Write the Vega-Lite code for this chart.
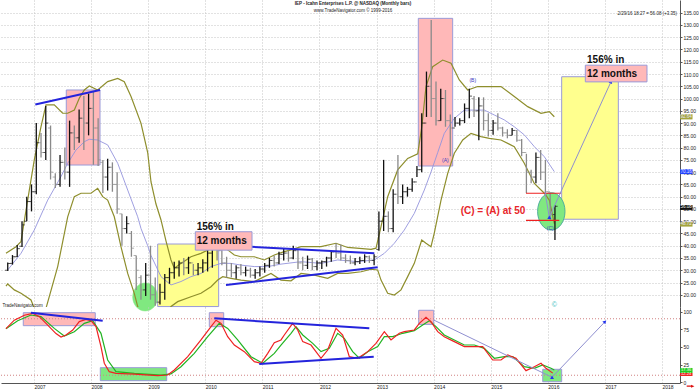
{
"$schema": "https://vega.github.io/schema/vega-lite/v6.json",
"padding": 0,
"spacing": 0,
"bounds": "flush",
"background": "white",
"config": {
 "view": {"stroke": null},
 "axis": {"gridColor": "#c4c4c4", "gridDash": [1, 2], "labelFont": "Liberation Sans", "labelFontSize": 5, "labelColor": "#222", "domainColor": "#555", "tickColor": "#555", "tickSize": 2, "labelPadding": 1},
 "text": {"font": "Liberation Sans"}
},
"resolve": {"scale": {"fill": "independent"}},
"datasets": {
 "bars": [
  {"t":2006.542,"p":33.2,"p2":29.7,"o":30,"c":32.8},
  {"t":2006.625,"p":36.2,"p2":32.3,"o":32.8,"c":35.5},
  {"t":2006.708,"p":40.3,"p2":35.4,"o":35.5,"c":38.8},
  {"t":2006.792,"p":50,"p2":39.5,"o":39.8,"c":48.5},
  {"t":2006.875,"p":60,"p2":50,"o":50,"c":58},
  {"t":2006.958,"p":65,"p2":54,"o":58,"c":62},
  {"t":2007.042,"p":90,"p2":61,"o":62,"c":82},
  {"t":2007.125,"p":86,"p2":76,"o":82,"c":78},
  {"t":2007.208,"p":97,"p2":75,"o":78,"c":90},
  {"t":2007.292,"p":89,"p2":67,"o":88,"c":70},
  {"t":2007.375,"p":69.5,"p2":63.5,"o":68,"c":65},
  {"t":2007.458,"p":77,"p2":64,"o":65,"c":74},
  {"t":2007.542,"p":80,"p2":67,"o":74,"c":70},
  {"t":2007.625,"p":91,"p2":64,"o":70,"c":86},
  {"t":2007.708,"p":89,"p2":79,"o":86,"c":84},
  {"t":2007.792,"p":95.5,"p2":82,"o":84,"c":92},
  {"t":2007.875,"p":101,"p2":79,"o":92,"c":90},
  {"t":2007.958,"p":102,"p2":85,"o":90,"c":96},
  {"t":2008.042,"p":103,"p2":73,"o":96,"c":88},
  {"t":2008.125,"p":92,"p2":72.5,"o":88,"c":75},
  {"t":2008.208,"p":75,"p2":61.5,"o":74,"c":68},
  {"t":2008.292,"p":75.5,"p2":62.5,"o":68,"c":72},
  {"t":2008.375,"p":74,"p2":62,"o":72,"c":65},
  {"t":2008.458,"p":70,"p2":53,"o":65,"c":55},
  {"t":2008.542,"p":53,"p2":40,"o":53,"c":47},
  {"t":2008.625,"p":52,"p2":45,"o":47,"c":49},
  {"t":2008.708,"p":46,"p2":35.5,"o":45,"c":39},
  {"t":2008.792,"p":36,"p2":22,"o":36,"c":30},
  {"t":2008.875,"p":28,"p2":18,"o":27,"c":22},
  {"t":2008.958,"p":33,"p2":19.5,"o":22,"c":28},
  {"t":2009.042,"p":40,"p2":18,"o":28,"c":20},
  {"t":2009.125,"p":27,"p2":15.5,"o":20,"c":17},
  {"t":2009.208,"p":24.5,"p2":16,"o":17,"c":21},
  {"t":2009.292,"p":28.5,"p2":18,"o":21,"c":27},
  {"t":2009.375,"p":31,"p2":24.5,"o":27,"c":29},
  {"t":2009.458,"p":33.5,"p2":26.5,"o":29,"c":31},
  {"t":2009.542,"p":34,"p2":27.5,"o":31,"c":33},
  {"t":2009.625,"p":35,"p2":28,"o":33,"c":31},
  {"t":2009.708,"p":35.5,"p2":28.5,"o":31,"c":33},
  {"t":2009.792,"p":32.5,"p2":28,"o":33,"c":30},
  {"t":2009.875,"p":33,"p2":28,"o":30,"c":31},
  {"t":2009.958,"p":34.5,"p2":29,"o":31,"c":33},
  {"t":2010.042,"p":39,"p2":29.5,"o":33,"c":37},
  {"t":2010.125,"p":40,"p2":31,"o":37,"c":39},
  {"t":2010.208,"p":41,"p2":34,"o":39,"c":38},
  {"t":2010.292,"p":38.5,"p2":32,"o":38,"c":33},
  {"t":2010.375,"p":35.5,"p2":27,"o":33,"c":30},
  {"t":2010.458,"p":33,"p2":27,"o":30,"c":29},
  {"t":2010.542,"p":32,"p2":26.5,"o":29,"c":31},
  {"t":2010.625,"p":32.5,"p2":28,"o":31,"c":29},
  {"t":2010.708,"p":31.5,"p2":27.5,"o":29,"c":30},
  {"t":2010.792,"p":31,"p2":27,"o":30,"c":28},
  {"t":2010.875,"p":30.5,"p2":26.5,"o":28,"c":29},
  {"t":2010.958,"p":31.5,"p2":27.5,"o":29,"c":30.5},
  {"t":2011.042,"p":33,"p2":29,"o":30.5,"c":32},
  {"t":2011.125,"p":35,"p2":31,"o":32,"c":34},
  {"t":2011.208,"p":36,"p2":31.5,"o":34,"c":33},
  {"t":2011.292,"p":37.5,"p2":32.5,"o":33,"c":36.5},
  {"t":2011.375,"p":39,"p2":34,"o":36.5,"c":37},
  {"t":2011.458,"p":38,"p2":33.5,"o":37,"c":35},
  {"t":2011.542,"p":40,"p2":34.5,"o":35,"c":38},
  {"t":2011.625,"p":38.5,"p2":30.5,"o":38,"c":33},
  {"t":2011.708,"p":35.5,"p2":30,"o":33,"c":32},
  {"t":2011.792,"p":36,"p2":30.5,"o":32,"c":34.5},
  {"t":2011.875,"p":35,"p2":30,"o":34.5,"c":31.5},
  {"t":2011.958,"p":34,"p2":30,"o":31.5,"c":33},
  {"t":2012.042,"p":34,"p2":30.5,"o":33,"c":33.5},
  {"t":2012.125,"p":35.5,"p2":31.5,"o":33.5,"c":35},
  {"t":2012.208,"p":38,"p2":33.5,"o":35,"c":37.5},
  {"t":2012.292,"p":41,"p2":35,"o":37.5,"c":37},
  {"t":2012.375,"p":40.5,"p2":34,"o":37,"c":35},
  {"t":2012.458,"p":36.5,"p2":33,"o":35,"c":34},
  {"t":2012.542,"p":36,"p2":32.5,"o":34,"c":33},
  {"t":2012.625,"p":35,"p2":32,"o":33,"c":33.5},
  {"t":2012.708,"p":35.5,"p2":32.5,"o":33.5,"c":34},
  {"t":2012.792,"p":36.5,"p2":33,"o":34,"c":35.5},
  {"t":2012.875,"p":36,"p2":33,"o":35.5,"c":34},
  {"t":2012.958,"p":36.5,"p2":32,"o":34,"c":35.5},
  {"t":2013.042,"p":54,"p2":38,"o":38.5,"c":50},
  {"t":2013.125,"p":75,"p2":46,"o":50,"c":52},
  {"t":2013.208,"p":54,"p2":45.5,"o":52,"c":47},
  {"t":2013.292,"p":63,"p2":45.5,"o":47,"c":61},
  {"t":2013.375,"p":77,"p2":57,"o":61,"c":60},
  {"t":2013.458,"p":65,"p2":57,"o":60,"c":62},
  {"t":2013.542,"p":64,"p2":60,"o":62,"c":63},
  {"t":2013.625,"p":67.5,"p2":62,"o":63,"c":66},
  {"t":2013.708,"p":72.5,"p2":68,"o":66,"c":71},
  {"t":2013.792,"p":94,"p2":70,"o":71,"c":90},
  {"t":2013.875,"p":111,"p2":92.5,"o":90,"c":105},
  {"t":2013.958,"p":132,"p2":92.5,"o":105,"c":100},
  {"t":2014.042,"p":107,"p2":89,"o":100,"c":91},
  {"t":2014.125,"p":104,"p2":91,"o":91,"c":100},
  {"t":2014.208,"p":103.5,"p2":88.5,"o":100,"c":91},
  {"t":2014.292,"p":93.5,"p2":76.5,"o":91,"c":88},
  {"t":2014.375,"p":92.5,"p2":88.5,"o":88,"c":90},
  {"t":2014.458,"p":92,"p2":89,"o":90,"c":91},
  {"t":2014.542,"p":98,"p2":90,"o":91,"c":96},
  {"t":2014.625,"p":104,"p2":92,"o":96,"c":101},
  {"t":2014.708,"p":101,"p2":92.5,"o":100,"c":95},
  {"t":2014.792,"p":100.5,"p2":83,"o":95,"c":97},
  {"t":2014.875,"p":100.5,"p2":87,"o":97,"c":91},
  {"t":2014.958,"p":94,"p2":84.5,"o":91,"c":87},
  {"t":2015.042,"p":91.3,"p2":85.2,"o":87,"c":90},
  {"t":2015.125,"p":94,"p2":87,"o":90,"c":88},
  {"t":2015.208,"p":88.5,"p2":84.5,"o":88,"c":86},
  {"t":2015.292,"p":87.5,"p2":83.8,"o":86,"c":85},
  {"t":2015.375,"p":88,"p2":85,"o":85,"c":87},
  {"t":2015.458,"p":87.2,"p2":82.4,"o":87,"c":83},
  {"t":2015.542,"p":83.5,"p2":76.5,"o":83,"c":78},
  {"t":2015.625,"p":77.5,"p2":61.5,"o":78,"c":70},
  {"t":2015.708,"p":71,"p2":65.5,"o":70,"c":68},
  {"t":2015.792,"p":78,"p2":65.5,"o":68,"c":76},
  {"t":2015.875,"p":79,"p2":66.8,"o":76,"c":70},
  {"t":2015.958,"p":75,"p2":61,"o":70,"c":62},
  {"t":2016.042,"p":61.5,"p2":50.5,"o":62,"c":52.7},
  {"t":2016.125,"p":56.5,"p2":42.3,"o":52.7,"c":56.08}
 ],
 "bands": [
  {"s":"upper","t":2006.511,"p":36.9},{"s":"upper","t":2006.687,"p":39.6},{"s":"upper","t":2006.774,"p":41.7},{"s":"upper","t":2006.891,"p":58.6},{"s":"upper","t":2007.007,"p":75},{"s":"upper","t":2007.124,"p":88.5},{"s":"upper","t":2007.212,"p":97.4},{"s":"upper","t":2007.357,"p":97.4},{"s":"upper","t":2007.504,"p":94},{"s":"upper","t":2007.592,"p":94},{"s":"upper","t":2007.708,"p":95.3},{"s":"upper","t":2007.795,"p":100.1},{"s":"upper","t":2007.883,"p":103.5},{"s":"upper","t":2007.970,"p":105.1},{"s":"upper","t":2008.117,"p":103.5},{"s":"upper","t":2008.292,"p":106.9},{"s":"upper","t":2008.468,"p":108.2},{"s":"upper","t":2008.583,"p":106.9},{"s":"upper","t":2008.701,"p":100.8},{"s":"upper","t":2008.876,"p":89.9},{"s":"upper","t":2008.993,"p":78},{"s":"upper","t":2009.051,"p":66},{"s":"upper","t":2009.138,"p":57},{"s":"upper","t":2009.226,"p":50.5},{"s":"upper","t":2009.313,"p":42},{"s":"upper","t":2009.401,"p":34.2},{"s":"upper","t":2009.459,"p":30.8},{"s":"upper","t":2009.576,"p":32.8},{"s":"upper","t":2009.751,"p":35.5},{"s":"upper","t":2009.926,"p":36.9},{"s":"upper","t":2010.102,"p":38.9},{"s":"upper","t":2010.247,"p":40.3},{"s":"upper","t":2010.394,"p":38.3},{"s":"upper","t":2010.510,"p":36.2},{"s":"upper","t":2010.627,"p":35.5},{"s":"upper","t":2010.860,"p":35.5},{"s":"upper","t":2011.035,"p":34.2},{"s":"upper","t":2011.210,"p":36.2},{"s":"upper","t":2011.385,"p":37.6},{"s":"upper","t":2011.503,"p":38.3},{"s":"upper","t":2011.678,"p":39.6},{"s":"upper","t":2012.028,"p":39.6},{"s":"upper","t":2012.291,"p":41},{"s":"upper","t":2012.496,"p":39.3},{"s":"upper","t":2012.904,"p":38.5},{"s":"upper","t":2012.991,"p":39},{"s":"upper","t":2013.079,"p":47.8},{"s":"upper","t":2013.196,"p":60},{"s":"upper","t":2013.371,"p":70.9},{"s":"upper","t":2013.546,"p":75.6},{"s":"upper","t":2013.722,"p":77.5},{"s":"upper","t":2013.793,"p":88.5},{"s":"upper","t":2013.867,"p":104.9},{"s":"upper","t":2013.984,"p":113},{"s":"upper","t":2014.159,"p":115.7},{"s":"upper","t":2014.305,"p":114.4},{"s":"upper","t":2014.450,"p":107.6},{"s":"upper","t":2014.597,"p":103.5},{"s":"upper","t":2014.772,"p":104.9},{"s":"upper","t":2015.005,"p":104.9},{"s":"upper","t":2015.180,"p":104.9},{"s":"upper","t":2015.413,"p":100.8},{"s":"upper","t":2015.648,"p":96.7},{"s":"upper","t":2015.881,"p":94},{"s":"upper","t":2016.026,"p":94.7},{"s":"upper","t":2016.114,"p":92.6},
  {"s":"lower","t":2006.511,"p":23.5},{"s":"lower","t":2006.541,"p":24.4},{"s":"lower","t":2006.657,"p":22},{"s":"lower","t":2006.774,"p":20.6},{"s":"lower","t":2006.949,"p":17.9},{"s":"lower","t":2007.05,"p":12},{"s":"lower","t":2007.13,"p":11},{"s":"lower","t":2007.212,"p":14.5},{"s":"lower","t":2007.417,"p":31.5},{"s":"lower","t":2007.592,"p":51.8},{"s":"lower","t":2007.708,"p":60},{"s":"lower","t":2007.825,"p":61.4},{"s":"lower","t":2008.0,"p":61.4},{"s":"lower","t":2008.117,"p":63.4},{"s":"lower","t":2008.205,"p":60},{"s":"lower","t":2008.292,"p":58.6},{"s":"lower","t":2008.408,"p":51.8},{"s":"lower","t":2008.525,"p":39.6},{"s":"lower","t":2008.643,"p":28.7},{"s":"lower","t":2008.758,"p":20.6},{"s":"lower","t":2008.818,"p":15.2},{"s":"lower","t":2008.95,"p":9},{"s":"lower","t":2009.226,"p":10},{"s":"lower","t":2009.401,"p":15.2},{"s":"lower","t":2009.518,"p":17.2},{"s":"lower","t":2009.751,"p":19.2},{"s":"lower","t":2009.926,"p":20.6},{"s":"lower","t":2010.102,"p":23.3},{"s":"lower","t":2010.219,"p":26},{"s":"lower","t":2010.307,"p":27.4},{"s":"lower","t":2010.452,"p":26.7},{"s":"lower","t":2010.627,"p":26},{"s":"lower","t":2010.860,"p":25.4},{"s":"lower","t":2011.035,"p":27.4},{"s":"lower","t":2011.152,"p":28.7},{"s":"lower","t":2011.327,"p":26},{"s":"lower","t":2011.503,"p":25.7},{"s":"lower","t":2011.678,"p":28.7},{"s":"lower","t":2011.911,"p":28},{"s":"lower","t":2012.145,"p":26.7},{"s":"lower","t":2012.320,"p":28.7},{"s":"lower","t":2012.496,"p":28.7},{"s":"lower","t":2012.729,"p":29.4},{"s":"lower","t":2012.904,"p":30.4},{"s":"lower","t":2013.021,"p":30.1},{"s":"lower","t":2013.079,"p":26},{"s":"lower","t":2013.196,"p":20.6},{"s":"lower","t":2013.312,"p":19.9},{"s":"lower","t":2013.429,"p":22},{"s":"lower","t":2013.546,"p":27.4},{"s":"lower","t":2013.662,"p":32.8},{"s":"lower","t":2013.792,"p":42.3},{"s":"lower","t":2013.867,"p":41},{"s":"lower","t":2013.954,"p":39.6},{"s":"lower","t":2014.012,"p":45.1},{"s":"lower","t":2014.130,"p":58.6},{"s":"lower","t":2014.247,"p":69.5},{"s":"lower","t":2014.363,"p":77.7},{"s":"lower","t":2014.510,"p":83.1},{"s":"lower","t":2014.655,"p":85.8},{"s":"lower","t":2014.830,"p":84.5},{"s":"lower","t":2014.976,"p":83.8},{"s":"lower","t":2015.180,"p":83.1},{"s":"lower","t":2015.413,"p":80.4},{"s":"lower","t":2015.588,"p":73.6},{"s":"lower","t":2015.764,"p":65.4},{"s":"lower","t":2015.939,"p":61.4},{"s":"lower","t":2016.026,"p":58.6},{"s":"lower","t":2016.114,"p":49}
 ],
 "mid": [
  {"t":2006.541,"p":30.1},{"t":2006.774,"p":36.9},{"t":2007.007,"p":46.4},{"t":2007.242,"p":58.6},{"t":2007.475,"p":68.2},{"t":2007.592,"p":73.6},{"t":2007.737,"p":79},{"t":2007.883,"p":82.4},{"t":2007.970,"p":83.4},{"t":2008.117,"p":83.1},{"t":2008.292,"p":81.1},{"t":2008.468,"p":73.6},{"t":2008.643,"p":62.7},{"t":2008.818,"p":51.8},{"t":2008.876,"p":47},{"t":2008.993,"p":40},{"t":2009.051,"p":36},{"t":2009.226,"p":27.4},{"t":2009.401,"p":24},{"t":2009.576,"p":25.4},{"t":2009.751,"p":27.4},{"t":2009.926,"p":28.7},{"t":2010.102,"p":31.5},{"t":2010.277,"p":32.8},{"t":2010.452,"p":32.8},{"t":2010.627,"p":32.1},{"t":2010.860,"p":31.5},{"t":2011.095,"p":31.5},{"t":2011.327,"p":32.5},{"t":2011.678,"p":33.5},{"t":2012.028,"p":32.8},{"t":2012.320,"p":34.2},{"t":2012.671,"p":33.5},{"t":2012.961,"p":34.2},{"t":2013.137,"p":36.9},{"t":2013.312,"p":41},{"t":2013.487,"p":46.4},{"t":2013.662,"p":53.2},{"t":2013.837,"p":62.7},{"t":2013.954,"p":70},{"t":2014.072,"p":78},{"t":2014.187,"p":85.8},{"t":2014.362,"p":91.9},{"t":2014.538,"p":95.3},{"t":2014.713,"p":95.3},{"t":2014.888,"p":95.3},{"t":2015.063,"p":93.3},{"t":2015.238,"p":91.3},{"t":2015.413,"p":88.5},{"t":2015.588,"p":85.2},{"t":2015.764,"p":80.4},{"t":2015.939,"p":76.3},{"t":2016.114,"p":70.2}
 ],
 "pbox": [
  {"k":"peak","t":2007.567,"t2":2008.158,"p":72.9,"p2":103.5},
  {"k":"peak","t":2013.732,"t2":2014.334,"p":72.5,"p2":132.7},
  {"k":"target","t":2009.168,"t2":2010.236,"p":15.2,"p2":40.7},
  {"k":"target","t":2016.243,"t2":2017.235,"p":50.8,"p2":108.9}
 ],
 "ell": [
  {"k":"g1","t":2008.949,"p":19.1},
  {"k":"g2","t":2016.061,"p":54.0}
 ],
 "ptrend": [
  {"id":"a","t":2007.025,"p":97.6},{"id":"a","t":2008.158,"p":103.5},
  {"id":"b","t":2010.207,"p":40.3},{"id":"b","t":2012.962,"p":36.9},
  {"id":"c","t":2010.364,"p":24.0},{"id":"c","t":2013.021,"p":31.2}
 ],
 "pred": [
  {"id":"a","t":2015.618,"p":61.4},{"id":"a","t":2016.231,"p":61.4},
  {"id":"b","t":2015.618,"p":50.3},{"id":"b","t":2016.201,"p":50.3}
 ],
 "parrow": [
  {"t":2015.951,"p":62},{"t":2016.026,"p":51.6},{"t":2017.107,"p":106.9}
 ],
 "plabel": [
  {"t":2009.827,"t2":2010.820,"p":38.2,"p2":45.7},
  {"t":2016.657,"t2":2017.737,"p":106.8,"p2":113.6}
 ],
 "pbig": [
  {"t":2009.851,"p":47.5,"txt":"156% in"},
  {"t":2009.851,"p":42.0,"txt":"12 months"},
  {"t":2016.687,"p":115.7,"txt":"156% in"},
  {"t":2016.687,"p":110.2,"txt":"12 months"}
 ],
 "psmall": [
  {"t":2014.205,"p":74.8,"txt":"(A)"},
  {"t":2014.685,"p":107.6,"txt":"(B)"},
  {"t":2016.043,"p":47.4,"txt":"(C)"}
 ],
 "ptags": [
  {"k":"upper","t":2018.317,"t2":2018.534,"p":91.5,"p2":93.6,"v":"92.64"},
  {"k":"mid","t":2018.317,"t2":2018.534,"p":69.2,"p2":71.2,"v":"70.16"},
  {"k":"close","t":2018.317,"t2":2018.534,"p":54.6,"p2":56.6,"v":"56.08"},
  {"k":"lower","t":2018.317,"t2":2018.534,"p":47.8,"p2":49.6,"v":"48.72"}
 ],
 "stoch": [
  {"s":"fast","t":2006.511,"p":76},{"s":"fast","t":2006.657,"p":88},{"s":"fast","t":2006.832,"p":95},{"s":"fast","t":2006.979,"p":97.7},{"s":"fast","t":2007.095,"p":93},{"s":"fast","t":2007.242,"p":81},{"s":"fast","t":2007.387,"p":69},{"s":"fast","t":2007.475,"p":64},{"s":"fast","t":2007.562,"p":67},{"s":"fast","t":2007.680,"p":74},{"s":"fast","t":2007.795,"p":86},{"s":"fast","t":2007.912,"p":89},{"s":"fast","t":2008.0,"p":87.3},{"s":"fast","t":2008.088,"p":79},{"s":"fast","t":2008.175,"p":50.5},{"s":"fast","t":2008.233,"p":27},{"s":"fast","t":2008.320,"p":15},{"s":"fast","t":2008.438,"p":12.7},{"s":"fast","t":2008.758,"p":11.7},{"s":"fast","t":2009.168,"p":9.4},{"s":"fast","t":2009.343,"p":10.3},{"s":"fast","t":2009.459,"p":17.4},{"s":"fast","t":2009.694,"p":36.3},{"s":"fast","t":2009.926,"p":60},{"s":"fast","t":2010.102,"p":79},{"s":"fast","t":2010.189,"p":88},{"s":"fast","t":2010.277,"p":83.5},{"s":"fast","t":2010.394,"p":64.6},{"s":"fast","t":2010.510,"p":52.8},{"s":"fast","t":2010.685,"p":43.4},{"s":"fast","t":2010.860,"p":29.2},{"s":"fast","t":2010.977,"p":26.9},{"s":"fast","t":2011.095,"p":41},{"s":"fast","t":2011.210,"p":56},{"s":"fast","t":2011.327,"p":60},{"s":"fast","t":2011.385,"p":67},{"s":"fast","t":2011.532,"p":83.5},{"s":"fast","t":2011.620,"p":74.1},{"s":"fast","t":2011.708,"p":57.6},{"s":"fast","t":2011.853,"p":52.8},{"s":"fast","t":2012.028,"p":34},{"s":"fast","t":2012.145,"p":45.7},{"s":"fast","t":2012.291,"p":76.4},{"s":"fast","t":2012.408,"p":67},{"s":"fast","t":2012.524,"p":36.3},{"s":"fast","t":2012.671,"p":34},{"s":"fast","t":2012.846,"p":43.4},{"s":"fast","t":2012.991,"p":55.2},{"s":"fast","t":2013.137,"p":71.7},{"s":"fast","t":2013.254,"p":60},{"s":"fast","t":2013.399,"p":69.4},{"s":"fast","t":2013.487,"p":71.7},{"s":"fast","t":2013.662,"p":74.1},{"s":"fast","t":2013.750,"p":83.5},{"s":"fast","t":2013.867,"p":92},{"s":"fast","t":2013.954,"p":85.9},{"s":"fast","t":2014.072,"p":71.7},{"s":"fast","t":2014.187,"p":64.6},{"s":"fast","t":2014.362,"p":57.6},{"s":"fast","t":2014.538,"p":50.5},{"s":"fast","t":2014.713,"p":50.5},{"s":"fast","t":2014.860,"p":50.5},{"s":"fast","t":2015.035,"p":31.6},{"s":"fast","t":2015.180,"p":31.6},{"s":"fast","t":2015.298,"p":38.7},{"s":"fast","t":2015.443,"p":34},{"s":"fast","t":2015.618,"p":16.5},{"s":"fast","t":2015.764,"p":22.1},{"s":"fast","t":2015.881,"p":26.9},{"s":"fast","t":2015.968,"p":19.8},{"s":"fast","t":2016.086,"p":13},
  {"s":"slow","t":2006.511,"p":76},{"s":"slow","t":2006.716,"p":87.3},{"s":"slow","t":2006.949,"p":95.3},{"s":"slow","t":2007.124,"p":93},{"s":"slow","t":2007.357,"p":76.4},{"s":"slow","t":2007.532,"p":65.6},{"s":"slow","t":2007.708,"p":71.7},{"s":"slow","t":2007.883,"p":83.5},{"s":"slow","t":2008.030,"p":87.3},{"s":"slow","t":2008.175,"p":69.4},{"s":"slow","t":2008.292,"p":31.6},{"s":"slow","t":2008.438,"p":15},{"s":"slow","t":2008.758,"p":12.7},{"s":"slow","t":2009.226,"p":10.3},{"s":"slow","t":2009.401,"p":11.8},{"s":"slow","t":2009.576,"p":22.1},{"s":"slow","t":2009.809,"p":41},{"s":"slow","t":2010.044,"p":64.6},{"s":"slow","t":2010.247,"p":83.5},{"s":"slow","t":2010.394,"p":76.4},{"s":"slow","t":2010.569,"p":60},{"s":"slow","t":2010.802,"p":36.3},{"s":"slow","t":2011.007,"p":26.9},{"s":"slow","t":2011.210,"p":41},{"s":"slow","t":2011.327,"p":52.8},{"s":"slow","t":2011.503,"p":69.4},{"s":"slow","t":2011.590,"p":78.8},{"s":"slow","t":2011.708,"p":67},{"s":"slow","t":2011.883,"p":55.2},{"s":"slow","t":2012.028,"p":43.4},{"s":"slow","t":2012.173,"p":48.1},{"s":"slow","t":2012.320,"p":69.4},{"s":"slow","t":2012.436,"p":62.3},{"s":"slow","t":2012.583,"p":43.4},{"s":"slow","t":2012.699,"p":34},{"s":"slow","t":2012.846,"p":43.4},{"s":"slow","t":2013.021,"p":50.5},{"s":"slow","t":2013.137,"p":64.6},{"s":"slow","t":2013.284,"p":64.6},{"s":"slow","t":2013.459,"p":69.4},{"s":"slow","t":2013.662,"p":73.1},{"s":"slow","t":2013.809,"p":81.2},{"s":"slow","t":2013.925,"p":87.3},{"s":"slow","t":2014.042,"p":78.8},{"s":"slow","t":2014.187,"p":67},{"s":"slow","t":2014.362,"p":59.9},{"s":"slow","t":2014.538,"p":52.8},{"s":"slow","t":2014.713,"p":52.8},{"s":"slow","t":2014.888,"p":48.1},{"s":"slow","t":2015.063,"p":34},{"s":"slow","t":2015.238,"p":36.3},{"s":"slow","t":2015.385,"p":36.3},{"s":"slow","t":2015.588,"p":22.1},{"s":"slow","t":2015.764,"p":19.8},{"s":"slow","t":2015.910,"p":24.5},{"s":"slow","t":2016.056,"p":19.8},{"s":"slow","t":2016.114,"p":17.4}
 ],
 "sbox": [
  {"k":"peak","t":2006.814,"t2":2008.075,"p":80.2,"p2":98.6},
  {"k":"trough","t":2008.163,"t2":2009.326,"p":2.3,"p2":20.7},
  {"k":"peak","t":2010.072,"t2":2010.324,"p":78.8,"p2":98.6},
  {"k":"peak","t":2013.739,"t2":2014.002,"p":82,"p2":102},
  {"k":"trough","t":2015.911,"t2":2016.243,"p":0.8,"p2":18.4}
 ],
 "strend": [
  {"id":"a","t":2006.949,"p":98.6},{"id":"a","t":2008.205,"p":87.3},
  {"id":"b","t":2010.159,"p":90.6},{"id":"b","t":2012.874,"p":76.5},
  {"id":"c","t":2010.947,"p":25.9},{"id":"c","t":2012.951,"p":36.3}
 ],
 "sarrow": [
  {"t":2014.002,"p":88.2},{"t":2016.074,"p":7.1},{"t":2017.002,"p":85.8}
 ],
 "slevels": [{"p":10},{"p":90}],
 "stags": [
  {"k":"slow","t":2018.317,"t2":2018.534,"p":13.2,"p2":20.3,"v":"17.36"},
  {"k":"fast","t":2018.317,"t2":2018.534,"p":8.9,"p2":13.2,"v":"12.24"}
 ]
},
"vconcat": [
 {
  "width": 679,
  "height": 307,
  "encoding": {
   "x": {"field": "t", "type": "quantitative", "scale": {"domain": [2006.424, 2018.315], "nice": false, "zero": false}, "axis": {"values": [2007,2008,2009,2010,2011,2012,2013,2014,2015,2016,2017,2018], "grid": true, "labels": false, "ticks": false, "domain": false, "title": null}},
   "y": {"field": "p", "type": "quantitative", "scale": {"domain": [15.02, 140.18], "nice": false, "zero": false}, "axis": {"orient": "right", "values": [15,20,25,30,35,40,45,50,55,60,65,70,75,80,85,90,95,100,105,110,115,120,125,130,135], "format": ".2f", "grid": true, "title": null, "labelBaseline": "middle"}}
  },
  "layer": [
   {"data": {"name": "pbox"}, "mark": {"type": "rect", "stroke": "#9a9ad8", "strokeWidth": 1},
    "encoding": {"x2": {"field": "t2"}, "y2": {"field": "p2"},
     "fill": {"field": "k", "type": "nominal", "scale": {"domain": ["peak", "target", "trough", "upper", "mid", "close", "lower", "slow", "fast"], "range": ["#ffb8b8", "#ffff8e", "#80e880", "#a4a43c", "#2244ff", "#111111", "#a4a43c", "#22cc22", "#ee2222"]}, "legend": null}}},
   {"data": {"name": "ell"}, "transform": [{"filter": "datum.k == 'g1'"}],
    "mark": {"type": "point", "filled": true, "fill": "#80e880", "fillOpacity": 1, "stroke": "#80e880", "strokeWidth": 0.5, "size": 625,
     "shape": "M-1,0C-1,-0.6186,-0.5523,-1.12,0,-1.12C0.5523,-1.12,1,-0.6186,1,0C1,0.6186,0.5523,1.12,0,1.12C-0.5523,1.12,-1,0.6186,-1,0Z"}},
   {"data": {"name": "ell"}, "transform": [{"filter": "datum.k == 'g2'"}],
    "mark": {"type": "point", "filled": true, "fill": "#80e880", "fillOpacity": 1, "stroke": "#4fae9c", "strokeWidth": 1, "size": 750,
     "shape": "M-1,0C-1,-0.7539,-0.5523,-1.365,0,-1.365C0.5523,-1.365,1,-0.7539,1,0C1,0.7539,0.5523,1.365,0,1.365C-0.5523,1.365,-1,0.7539,-1,0Z"}},
   {"data": {"name": "mid"}, "mark": {"type": "line", "color": "#9494dc", "strokeWidth": 0.9, "clip": true}, "encoding": {}},
   {"data": {"name": "bands"}, "mark": {"type": "line", "color": "#8e8e2c", "strokeWidth": 1.2, "clip": true},
    "encoding": {"detail": {"field": "s"}}},
   {"data": {"name": "bars"}, "mark": {"type": "rule", "strokeWidth": 1.3},
    "encoding": {"y2": {"field": "p2"},
     "color": {"condition": {"test": "datum.c < datum.o", "value": "#8a8a8a"}, "value": "#111111"}}},
   {"data": {"name": "bars"}, "transform": [{"fold": ["o"], "as": ["kind", "p"]}],
    "mark": {"type": "tick", "orient": "horizontal", "size": 2.5, "thickness": 1, "xOffset": -1.4},
    "encoding": {"color": {"condition": {"test": "datum.c < datum.o", "value": "#8a8a8a"}, "value": "#111111"}}},
   {"data": {"name": "bars"}, "transform": [{"fold": ["c"], "as": ["kind", "p"]}],
    "mark": {"type": "tick", "orient": "horizontal", "size": 2.5, "thickness": 1, "xOffset": 1.4},
    "encoding": {"color": {"condition": {"test": "datum.c < datum.o", "value": "#8a8a8a"}, "value": "#111111"}}},
   {"data": {"name": "ptrend"}, "mark": {"type": "line", "color": "#2424dc", "strokeWidth": 2},
    "encoding": {"detail": {"field": "id"}}},
   {"data": {"name": "pred"}, "mark": {"type": "line", "color": "#ee2020", "strokeWidth": 1.2},
    "encoding": {"detail": {"field": "id"}}},
   {"data": {"name": "parrow"}, "mark": {"type": "line", "color": "#8f8fd0", "strokeWidth": 1}, "encoding": {}},
   {"data": {"values": [{"t": 2016.026, "p": 51.6}]}, "mark": {"type": "point", "shape": "triangle-up", "filled": true, "color": "#2233ee", "size": 16, "opacity": 1}},
   {"data": {"values": [{"t": 2017.107, "p": 106.9}]}, "mark": {"type": "point", "shape": "triangle-up", "filled": true, "color": "#2233ee", "size": 16, "opacity": 1, "angle": 24}},
   {"data": {"name": "plabel"}, "mark": {"type": "rect", "fill": "#ffb8b8", "stroke": "#9a9ad8", "strokeWidth": 1},
    "encoding": {"x2": {"field": "t2"}, "y2": {"field": "p2"}}},
   {"data": {"name": "pbig"}, "mark": {"type": "text", "align": "left", "baseline": "middle", "fontSize": 10, "fontWeight": "bold", "color": "#111"},
    "encoding": {"text": {"field": "txt"}}},
   {"data": {"values": [{"t": 2015.608, "p": 54.3, "txt": "(C) = (A) at 50"}]}, "mark": {"type": "text", "align": "right", "baseline": "middle", "fontSize": 10, "fontWeight": "bold", "color": "#e8262b"},
    "encoding": {"text": {"field": "txt"}}},
   {"data": {"name": "psmall"}, "mark": {"type": "text", "align": "center", "baseline": "middle", "fontSize": 5, "color": "#3a3ac0"},
    "encoding": {"text": {"field": "txt"}}},
   {"data": {"values": [{"t": 2016.113, "p": 15.9, "txt": "©"}]}, "mark": {"type": "text", "align": "center", "baseline": "middle", "fontSize": 7, "color": "#33bbbb"},
    "encoding": {"text": {"field": "txt"}}},
   {"data": {"values": [{"t": 2012.59, "p": 138.4, "txt": "IEP - Icahn Enterprises L.P. @ NASDAQ (Monthly bars)"}]}, "mark": {"type": "text", "align": "center", "baseline": "middle", "fontSize": 4.5, "fontWeight": "bold", "color": "#222"},
    "encoding": {"text": {"field": "txt"}}},
   {"data": {"values": [{"t": 2012.59, "p": 135.8, "txt": "www.TradeNavigator.com © 1999-2016"}]}, "mark": {"type": "text", "align": "center", "baseline": "middle", "fontSize": 4.5, "color": "#222"},
    "encoding": {"text": {"field": "txt"}}},
   {"data": {"values": [{"t": 2018.263, "p": 134.3, "txt": "2/29/16 18:27 = 56.08 (+3.35)"}]}, "mark": {"type": "text", "align": "right", "baseline": "middle", "fontSize": 4.5, "color": "#222"},
    "encoding": {"text": {"field": "txt"}}},
   {"data": {"values": [{"t": 2006.45, "p": 15.5, "txt": "TradeNavigator.com"}]}, "mark": {"type": "text", "align": "left", "baseline": "middle", "fontSize": 4.5, "color": "#222"},
    "encoding": {"text": {"field": "txt"}}},
   {"data": {"name": "ptags"}, "mark": {"type": "rect"},
    "encoding": {"x2": {"field": "t2"}, "y2": {"field": "p2"},
     "fill": {"field": "k", "type": "nominal", "scale": {"domain": ["peak", "target", "trough", "upper", "mid", "close", "lower", "slow", "fast"], "range": ["#ffb8b8", "#ffff8e", "#80e880", "#a4a43c", "#2244ff", "#111111", "#a4a43c", "#22cc22", "#ee2222"]}, "legend": null}}},
   {"data": {"name": "ptags"}, "mark": {"type": "text", "align": "center", "baseline": "middle", "fontSize": 4.5, "dx": 6, "dy": -2.5},
    "encoding": {"text": {"field": "v"},
     "color": {"condition": {"test": "datum.k == 'close'", "value": "#ffffff"}, "value": "#e8e8ff"}}}
  ]
 },
 {
  "width": 679,
  "height": 76,
  "encoding": {
   "x": {"field": "t", "type": "quantitative", "scale": {"domain": [2006.424, 2018.315], "nice": false, "zero": false}, "axis": {"values": [2007,2008,2009,2010,2011,2012,2013,2014,2015,2016,2017,2018], "format": "d", "grid": true, "labelAlign": "left", "labelFlush": false, "labelOverlap": false, "labelPadding": 1, "ticks": false, "title": null}},
   "y": {"field": "p", "type": "quantitative", "scale": {"domain": [-1, 106.66], "nice": false, "zero": false}, "axis": {"orient": "right", "values": [0, 25, 50, 75, 100], "grid": false, "title": null, "labelBaseline": "middle"}}
  },
  "layer": [
   {"data": {"name": "sbox"}, "mark": {"type": "rect", "stroke": "#9a9ad8", "strokeWidth": 1},
    "encoding": {"x2": {"field": "t2"}, "y2": {"field": "p2"},
     "fill": {"field": "k", "type": "nominal", "scale": {"domain": ["peak", "target", "trough", "upper", "mid", "close", "lower", "slow", "fast"], "range": ["#ffb8b8", "#ffff8e", "#80e880", "#a4a43c", "#2244ff", "#111111", "#a4a43c", "#22cc22", "#ee2222"]}, "legend": null}}},
   {"data": {"name": "slevels"}, "mark": {"type": "rule", "color": "#d08080", "strokeDash": [1, 2], "strokeWidth": 1},
    "encoding": {"x": null}},
   {"data": {"name": "stoch"}, "transform": [{"filter": "datum.s == 'slow'"}], "mark": {"type": "line", "color": "#22b422", "strokeWidth": 1.2}, "encoding": {}},
   {"data": {"name": "stoch"}, "transform": [{"filter": "datum.s == 'fast'"}], "mark": {"type": "line", "color": "#ee2222", "strokeWidth": 1.2}, "encoding": {}},
   {"data": {"name": "strend"}, "mark": {"type": "line", "color": "#2424dc", "strokeWidth": 2},
    "encoding": {"detail": {"field": "id"}}},
   {"data": {"name": "sarrow"}, "mark": {"type": "line", "color": "#8f8fd0", "strokeWidth": 1}, "encoding": {}},
   {"data": {"values": [{"t": 2016.074, "p": 7.1}]}, "mark": {"type": "point", "shape": "triangle-up", "filled": true, "color": "#2233ee", "size": 16, "opacity": 1}},
   {"data": {"values": [{"t": 2017.002, "p": 85.8}]}, "mark": {"type": "point", "shape": "triangle-up", "filled": true, "color": "#2233ee", "size": 16, "opacity": 1, "angle": 44}},
   {"data": {"values": [{"t": 2018.5, "p": -5.5}]}, "mark": {"type": "point", "shape": "arrow", "filled": true, "color": "#dd1111", "size": 60, "opacity": 1, "angle": 90}},
   {"data": {"name": "stags"}, "mark": {"type": "rect"},
    "encoding": {"x2": {"field": "t2"}, "y2": {"field": "p2"},
     "fill": {"field": "k", "type": "nominal", "scale": {"domain": ["peak", "target", "trough", "upper", "mid", "close", "lower", "slow", "fast"], "range": ["#ffb8b8", "#ffff8e", "#80e880", "#a4a43c", "#2244ff", "#111111", "#a4a43c", "#22cc22", "#ee2222"]}, "legend": null}}},
   {"data": {"name": "stags"}, "mark": {"type": "text", "align": "center", "baseline": "middle", "fontSize": 4, "dx": 6, "dy": -2.5, "color": "#ffffff"},
    "encoding": {"text": {"field": "v"}}}
  ]
 }
]
}
